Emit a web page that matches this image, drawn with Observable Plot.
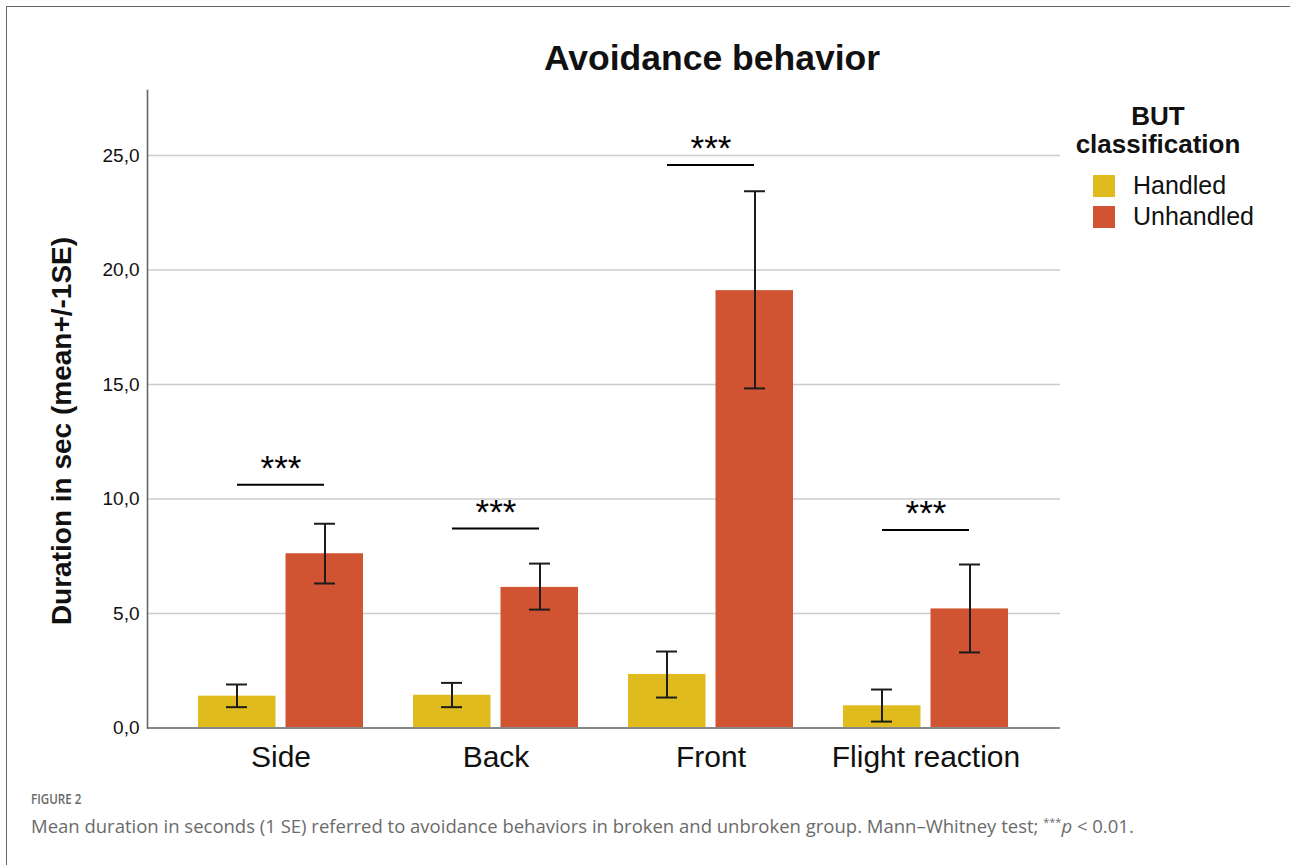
<!DOCTYPE html>
<html>
<head>
<meta charset="utf-8">
<script src="https://cdn.jsdelivr.net/npm/d3@7"></script>
<script src="https://cdn.jsdelivr.net/npm/@observablehq/plot@0.6"></script>
<style>
  body { margin: 0; background: #fff; }
  #wrap { position: relative; width: 1290px; height: 865px; overflow: hidden; font-family: "Liberation Sans", Arial, sans-serif; }
  #frame { position: absolute; left: 6px; top: 6px; width: 2000px; height: 2000px; border-top: 1.5px solid #666; border-left: 1.5px solid #666; }
  #chart { position: absolute; left: 0; top: 0; }
  .abs { position: absolute; white-space: nowrap; }
  #title { left: 412px; width: 600px; top: 41px; font-size: 35.5px; line-height: 35.5px; font-weight: bold; text-align: center; color: #111; }
  #ylabel { left: -188px; width: 500px; top: 417px; font-size: 28px; line-height: 28px; font-weight: bold; text-align: center; transform: rotate(-90deg); color: #111; }
  #legTitle { left: 1058px; width: 200px; text-align: center; font-size: 26px; line-height: 28px; font-weight: bold; top: 102px; color: #111; }
  .legItem { left: 1093px; font-size: 25px; line-height: 25px; color: #111; }
  .sw { display: inline-block; width: 22px; height: 22px; vertical-align: top; margin-right: 18px; margin-top: 2px; }
  #figlab { left: 31px; top: 792px; font-family: "Open Sans", sans-serif; font-weight: 600; font-size: 14.5px; line-height: 14.5px; color: #6a6a6a; transform: scaleX(0.8); transform-origin: left center; }
  #caption { left: 31px; top: 813px; font-family: "Open Sans", sans-serif; font-size: 18.5px; line-height: 18.5px; color: #6b6b6b; }
  #caption sup { font-size: 11px; }
</style>
</head>
<body>
<div id="wrap">
  <div id="frame"></div>
  <div id="chart"></div>
  <div id="title" class="abs">Avoidance behavior</div>
  <div id="ylabel" class="abs">Duration in sec (mean+/-1SE)</div>
  <div id="legTitle" class="abs">BUT<br>classification</div>
  <div id="leg"></div>
  <div id="figlab" class="abs">FIGURE 2</div>
  <div id="caption" class="abs">Mean duration in seconds (1 SE) referred to avoidance behaviors in broken and unbroken group. Mann–Whitney test; <sup>***</sup><i>p</i> &lt; 0.01.</div>
</div>
<script>
const categories = ["Side", "Back", "Front", "Flight reaction"];
const groups = ["Handled", "Unhandled"];
const groupColors = ["#E0BB1E", "#D05432"];
const handledMean = [1.39, 1.43, 2.34, 0.97];
const handledLow = [0.91, 0.91, 1.33, 0.28];
const handledHigh = [1.90, 1.97, 3.34, 1.68];
const unhandledMean = [7.61, 6.14, 19.10, 5.20];
const unhandledLow = [6.31, 5.17, 14.83, 3.30];
const unhandledHigh = [8.92, 7.18, 23.44, 7.14];
const sigLevel = [10.62, 8.71, 24.59, 8.65];
const sigLabel = ["***", "***", "***", "***"];
const yTicks = [0, 5, 10, 15, 20, 25];
const yMax = 27.84;

const handled = categories.map((c, i) => ({cat: c, group: groups[0], mean: handledMean[i], low: handledLow[i], high: handledHigh[i]}));
const unhandled = categories.map((c, i) => ({cat: c, group: groups[1], mean: unhandledMean[i], low: unhandledLow[i], high: unhandledHigh[i]}));
const sig = categories.map((c, i) => ({cat: c, level: sigLevel[i], label: sigLabel[i]}));

const errStyle = {stroke: "#1c1c1c", strokeWidth: 2};

const chart = Plot.plot({
  width: 1290,
  height: 790,
  marginLeft: 147,
  marginRight: 230,
  marginTop: 90,
  marginBottom: 62.5,
  style: {fontFamily: "'Liberation Sans', Arial, sans-serif", fontSize: "19px", color: "#111", background: "transparent"},
  x: {domain: categories, padding: 0.231, label: null},
  y: {domain: [0, yMax], label: null},
  color: {domain: groups, range: groupColors},
  marks: [
    Plot.ruleY(yTicks.filter(t => t > 0), {stroke: "#cccccc", strokeWidth: 1.6}),
    Plot.barY(handled, {x: "cat", y: "mean", fill: "group", insetRight: 87.5}),
    Plot.barY(unhandled, {x: "cat", y: "mean", fill: "group", insetLeft: 87.5}),
    Plot.ruleX(handled, {x: "cat", y1: "low", y2: "high", dx: -44, ...errStyle}),
    Plot.ruleX(unhandled, {x: "cat", y1: "low", y2: "high", dx: 44, ...errStyle}),
    Plot.tickY(handled, {x: "cat", y: "low", insetLeft: 28, insetRight: 116, ...errStyle}),
    Plot.tickY(handled, {x: "cat", y: "high", insetLeft: 28, insetRight: 116, ...errStyle}),
    Plot.tickY(unhandled, {x: "cat", y: "low", insetLeft: 116, insetRight: 28, ...errStyle}),
    Plot.tickY(unhandled, {x: "cat", y: "high", insetLeft: 116, insetRight: 28, ...errStyle}),
    Plot.tickY(sig, {x: "cat", y: "level", insetLeft: 39, insetRight: 39, stroke: "#000", strokeWidth: 2}),
    Plot.text(sig, {x: "cat", y: "level", text: "label", dy: -16, fontSize: 35, fill: "#000"}),
    Plot.ruleY([0], {stroke: "#888", strokeWidth: 2}),
    Plot.frame({anchor: "left", stroke: "#666", strokeWidth: 1.6}),
    Plot.axisY({ticks: yTicks, tickFormat: d => d.toFixed(1).replace(".", ","), tickSize: 0, tickPadding: 8, fontSize: 19, label: null}),
    Plot.axisX({tickSize: 0, tickPadding: 18, fontSize: 30, label: null})
  ]
});
document.getElementById("chart").appendChild(chart);

const leg = document.getElementById("leg");
groups.forEach((g, i) => {
  const d = document.createElement("div");
  d.className = "abs legItem";
  d.style.top = (173 + i * 31) + "px";
  d.innerHTML = `<span class="sw" style="background:${groupColors[i]}"></span>${g}`;
  leg.appendChild(d);
});
</script>
</body>
</html>
